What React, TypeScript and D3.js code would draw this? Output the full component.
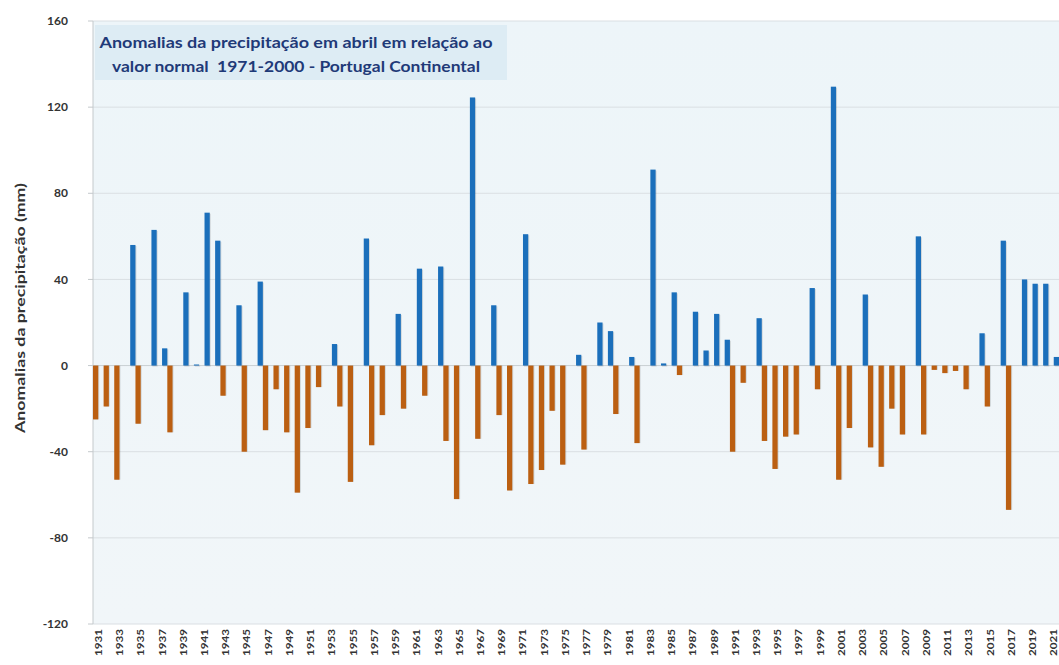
import React from "react";
import * as d3 from "d3";

const years: number[] = d3.range(1931, 2022);

// Anomalias da precipitação em abril (mm), 1931–2021
const anomalies: number[] = [
  -25, -19, -53, 56, -27, 63, 8, -31, 34, 0.5, // 1931-1940
  71, 58, -14, 28, -40, 39, -30, -11, -31, -59, // 1941-1950
  -29, -10, 10, -19, -54, 59, -37, -23, 24, -20, // 1951-1960
  45, -14, 46, -35, -62, 124.5, -34, 28, -23, -58, // 1961-1970
  61, -55, -48.5, -21, -46, 5, -39, 20, 16, -22.5, // 1971-1980
  4, -36, 91, 1, 34, -4.4, 25, 7, 24, 12, // 1981-1990
  -40, -8, 22, -35, -48, -33, -32, 36, -11, 129.5, // 1991-2000
  -53, -29, 33, -38, -47, -20, -32, 60, -32, -2, // 2001-2010
  -3.5, -2.5, -11, 15, -19, 58, -67, 40, 38, 38, // 2011-2020
  4, // 2021
];

const seriesKeys = ["neg", "pos"];
const yTicks: number[] = [160, 120, 80, 40, 0, -40, -80, -120];
const xTickYears: number[] = years.filter((y) => (y - 1931) % 2 === 0);

const titleLines = [
  "Anomalias da precipitação em abril em relação ao",
  "valor normal\u00a0 1971-2000 - Portugal Continental",
];
const yAxisTitle = "Anomalias da precipitação (mm)";

const W = 1059;
const H = 665;
const left = 93;
const right = 1059;
const top = 21;
const bottom = 624;

const COLORS: Record<string, string> = { pos: "#1b6fbb", neg: "#bb5f12" };
const FONT = "Lato, 'Open Sans', 'Liberation Sans', sans-serif";

export default function App() {
  const x = d3.scaleBand<number>().domain(years).range([left, right]).padding(0);
  const sub = d3
    .scaleBand<string>()
    .domain(seriesKeys)
    .range([0, x.bandwidth()])
    .paddingInner(0.02)
    .paddingOuter(0.0);
  const y = d3.scaleLinear().domain([-120, 160]).range([bottom, top]);

  const bars = years.map((yr, i) => {
    const v = anomalies[i];
    const key = v >= 0 ? "pos" : "neg";
    const x0 = (x(yr) as number) + (sub(key) as number);
    const y0 = y(Math.max(0, v));
    const h = Math.abs(y(v) - y(0));
    return { yr, v, key, x0, y0, h };
  });

  return (
    <svg
      width={W}
      height={H}
      style={{ position: "absolute", left: 0, top: 0, display: "block", background: "#ffffff" }}
      fontFamily={FONT}
    >
      <defs>
        <linearGradient id="plotBg" x1="0" y1="0" x2="0" y2="1">
          <stop offset="0" stopColor="#edf5f9" />
          <stop offset="1" stopColor="#f1f6f9" />
        </linearGradient>
      </defs>
      <rect x={left} y={top} width={right - left} height={bottom - top} fill="url(#plotBg)" />

      {yTicks.map((t) => (
        <line
          key={"g" + t}
          x1={left}
          x2={right}
          y1={y(t)}
          y2={y(t)}
          stroke={t === 0 ? "#c9cfd3" : "#dadfe3"}
          strokeWidth={1}
        />
      ))}

      {/* axis line and ticks */}
      <line x1={left} x2={left} y1={top} y2={bottom} stroke="#c4c9cc" />
      {yTicks.map((t) => (
        <line key={"t" + t} x1={left - 5} x2={left} y1={y(t)} y2={y(t)} stroke="#c4c9cc" />
      ))}

      {/* bars */}
      {bars.map((b) => (
        <g key={b.yr}>
          <rect
            x={b.x0 + 1}
            y={b.y0 + (b.v >= 0 ? 1 : 0)}
            width={sub.bandwidth()}
            height={b.h}
            fill="#000"
            opacity={0.12}
          />
          <rect x={b.x0} y={b.y0} width={sub.bandwidth()} height={b.h} fill={COLORS[b.key]} />
        </g>
      ))}

      {/* y tick labels */}
      {yTicks.map((t) => (
        <text
          key={"l" + t}
          x={left - 25}
          y={y(t)}
          dy="0.35em"
          textAnchor="end"
          fontSize={12}
          fontWeight={700}
          fill="#333"
        >
          {t}
        </text>
      ))}

      {/* x tick labels */}
      {xTickYears.map((yr) => {
        const cx = (x(yr) as number) + x.bandwidth() / 2;
        return (
          <text
            key={"x" + yr}
            transform={`translate(${cx + 3.5},${bottom + 5}) rotate(-90)`}
            textAnchor="end"
            fontSize={9.5}
            fontWeight={700}
            fill="#333"
            textLength={27}
            lengthAdjust="spacingAndGlyphs"
          >
            {yr}
          </text>
        );
      })}

      {/* y axis title */}
      <text
        transform={`translate(25,308) rotate(-90)`}
        textAnchor="middle"
        fontSize={13}
        fontWeight={700}
        fill="#333"
        textLength={250}
        lengthAdjust="spacingAndGlyphs"
      >
        {yAxisTitle}
      </text>

      {/* title box */}
      <rect x={95} y={25} width={412} height={55} fill="#d9eaf3" opacity={0.85} />
      <text x={296} y={48} textAnchor="middle" fontSize={14.5} fontWeight={700} fill="#1f3a78"
        textLength={393} lengthAdjust="spacingAndGlyphs">
        {titleLines[0]}
      </text>
      <text x={296} y={72} textAnchor="middle" fontSize={14.5} fontWeight={700} fill="#1f3a78"
        textLength={368} lengthAdjust="spacingAndGlyphs">
        {titleLines[1]}
      </text>
    </svg>
  );
}
